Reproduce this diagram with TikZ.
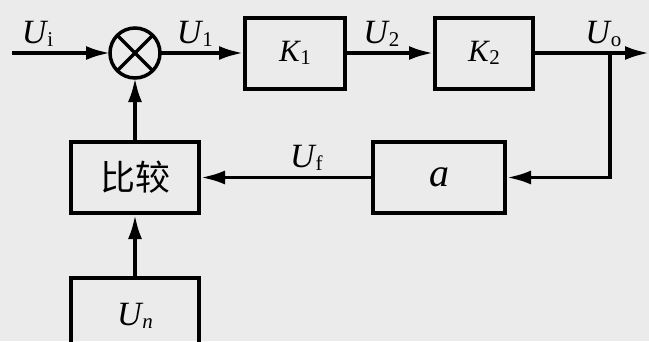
\documentclass[tikz,border=0pt]{standalone}
\usepackage{fontspec}
\setmainfont{Liberation Serif}
\newfontfamily\cjk{Noto Sans CJK SC}
\usetikzlibrary{positioning,arrows.meta}

\definecolor{bgGray}{RGB}{235,235,235}
% signal name with upright subscript
\newcommand{\sig}[2]{\textit{#1}\kern-1pt\raisebox{-3pt}{\fontsize{21}{21}\selectfont #2}}

\begin{document}
\begin{tikzpicture}[x=1pt, y=1pt,
    block/.style={draw, line width=4pt, minimum width=128pt, minimum height=71pt, inner sep=0pt},
    sumNode/.style={circle, draw, line width=3.5pt, minimum size=50pt, inner sep=0pt, outer sep=0pt},
    arrow/.style={->, >={Latex[length=24pt,width=14pt]}, line width=3.5pt},
    lbl/.style={font=\fontsize{34}{34}\selectfont, inner sep=0pt, above=5pt}]

  \clip (0,0) rectangle (649,-341);
  \fill[bgGray] (0,0) rectangle (649,-341);

  % Forward path
  \node[sumNode] (sum) at (135,-53) {};
  \draw[line width=3.5pt] (sum.north west) -- (sum.south east)
                          (sum.north east) -- (sum.south west);
  \node[block, minimum width=100pt, right=83pt of sum] (k1) {\fontsize{31}{31}\selectfont\sig{K}{1}};
  \node[block, minimum width=98pt, right=86pt of k1] (k2) {\fontsize{31}{31}\selectfont\sig{K}{2}};

  % Feedback path
  \node[block, below=62pt of sum] (cmp) {\fontsize{35}{35}\selectfont\cjk 比较};
  \node[block, below=61pt of cmp, minimum height=76pt] (ref) {\fontsize{34}{34}\selectfont\sig{U}{\textit{n}}};
  \node[block, minimum width=132pt, right=170pt of cmp] (fb) {\fontsize{40}{40}\selectfont\textit{a}};

  \coordinate (in) at (12,-53);
  \coordinate (out) at (649,-53);
  \coordinate (br) at (610,-53);

  % Arrows
  \draw[arrow] (in) -- node[lbl, pos=0.26] {\sig{U}{i}} (sum);
  \draw[arrow] (sum) -- node[lbl, pos=0.42] {\sig{U}{1}} (k1);
  \draw[arrow] (k1) -- node[lbl, pos=0.4] {\sig{U}{2}} (k2);
  \draw[arrow] (k2) -- node[lbl, pos=0.6] {\sig{U}{o}} (out);
  \draw[arrow] (br) |- (fb);
  \draw[arrow] (fb) -- node[lbl, pos=0.38] {\sig{U}{f}} (cmp);
  \draw[arrow] (cmp) -- (sum);
  \draw[arrow] (ref) -- (cmp);

\end{tikzpicture}
\end{document}
